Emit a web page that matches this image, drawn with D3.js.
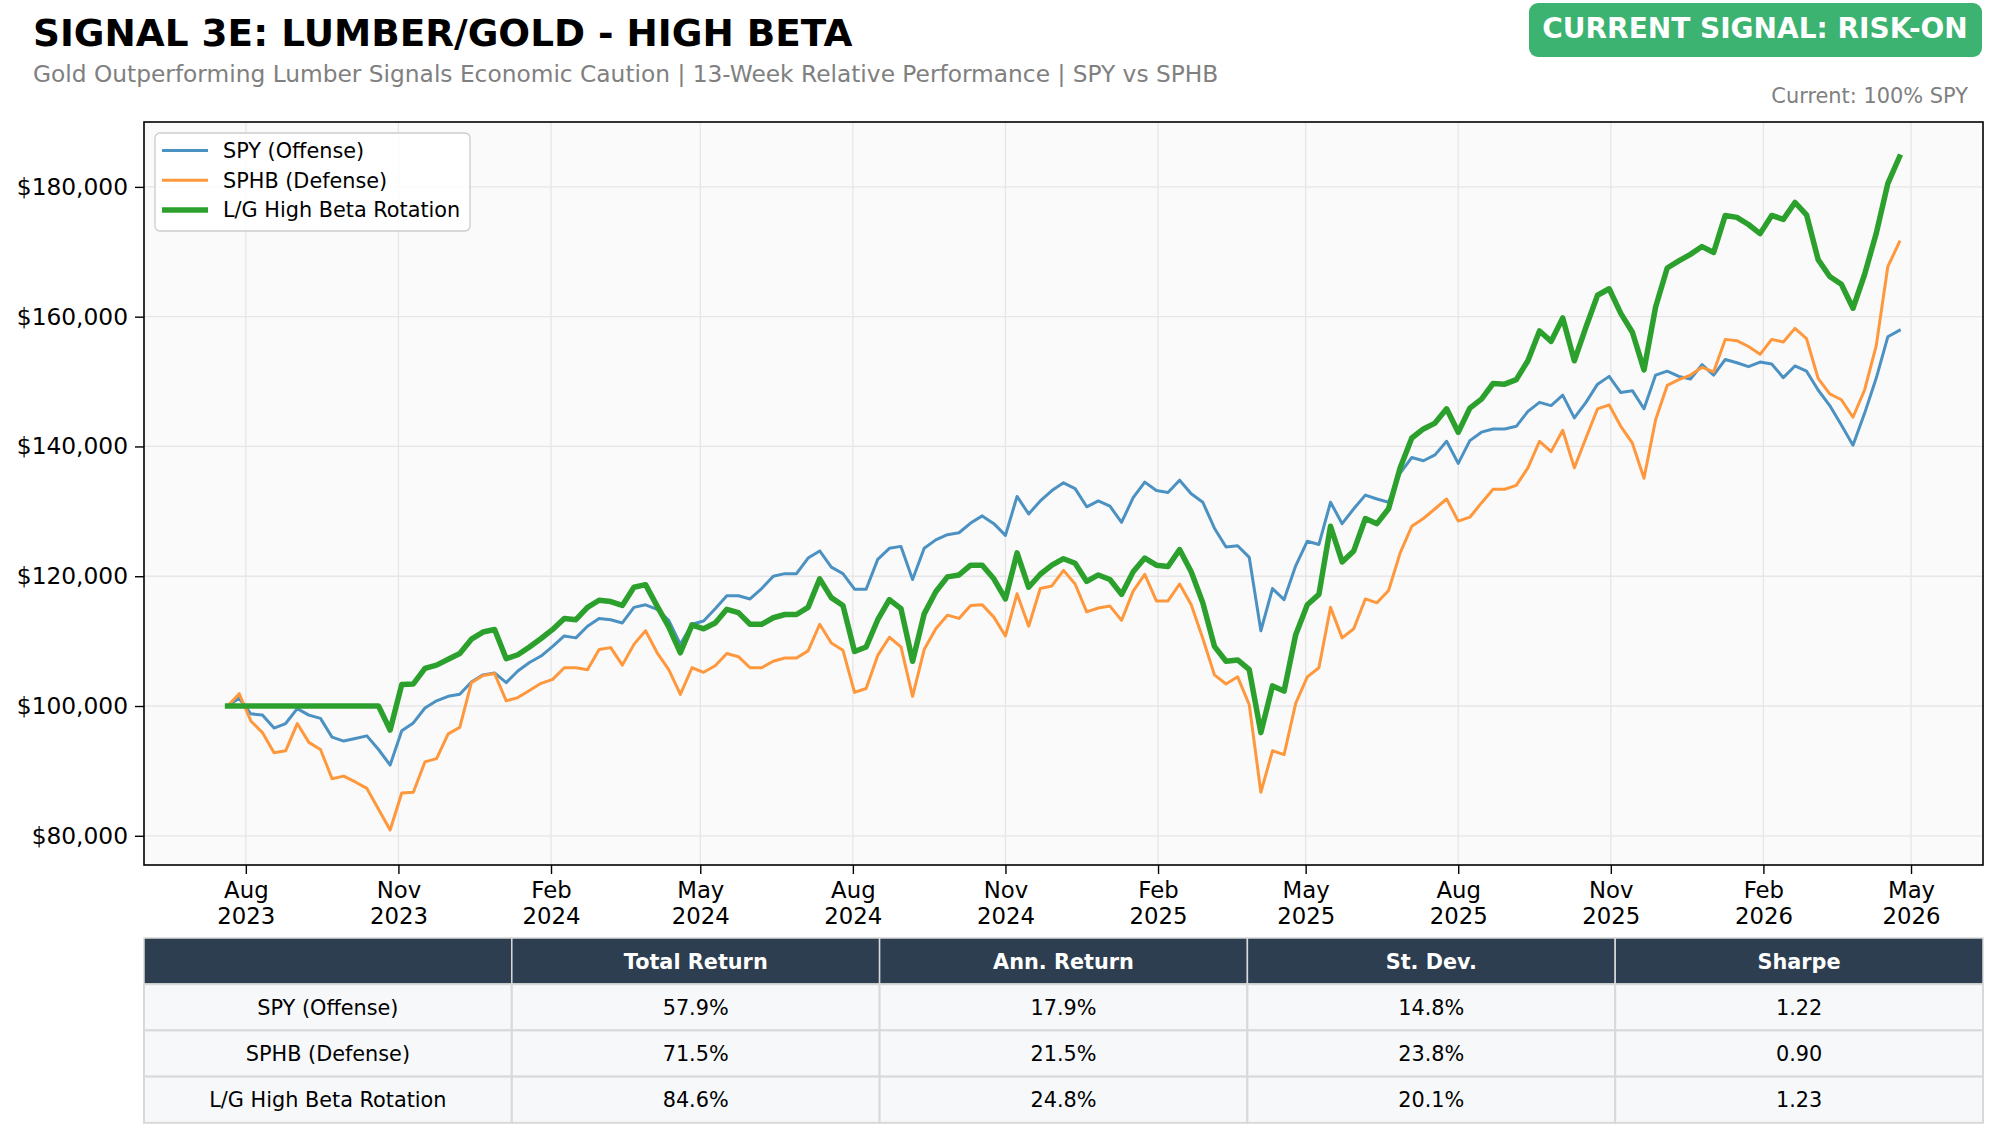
<!DOCTYPE html>
<html>
<head>
<meta charset="utf-8">
<script src="https://cdn.jsdelivr.net/npm/d3@7"></script>
<style>
  body { margin: 0; background: #ffffff; }
  svg { display: block; font-family: "DejaVu Sans", sans-serif; }
</style>
</head>
<body>
<svg id="chart" width="2000" height="1140"></svg>
<script>
// weekly closes, first week ends 2023-07-21, values in $ thousands
var startDate = new Date(2023, 6, 21);

var spyK = [100.0,101.2,98.8,98.6,96.6,97.3,99.6,98.6,98.1,95.2,94.6,95.0,95.4,93.3,90.9,96.2,97.4,99.7,100.8,101.5,
  101.8,103.7,104.8,105.1,103.6,105.4,106.7,107.7,109.2,110.8,110.5,112.3,113.5,113.3,112.8,115.2,115.6,114.9,113.2,109.5,
  112.6,113.1,115.0,117.0,117.0,116.5,118.1,120.0,120.4,120.4,122.8,123.9,121.4,120.4,118.0,118.0,122.6,124.3,124.6,119.5,
  124.3,125.6,126.4,126.7,128.2,129.3,128.1,126.3,132.3,129.6,131.6,133.2,134.4,133.5,130.7,131.6,130.8,128.3,132.1,134.5,
  133.2,132.9,134.8,132.7,131.4,127.4,124.5,124.7,122.9,111.6,118.1,116.4,121.6,125.4,124.9,131.4,128.1,130.4,132.5,131.9,
  131.4,135.9,138.3,137.8,138.7,140.8,137.4,140.9,142.2,142.7,142.7,143.1,145.4,146.8,146.3,147.9,144.4,146.8,149.6,150.8,
  148.3,148.6,145.8,151.0,151.6,150.8,150.4,152.6,151.0,153.4,152.9,152.3,153.0,152.7,150.6,152.4,151.6,148.7,146.3,143.3,
  140.2,145.1,150.5,156.9,157.9];

var sphbK = [100.0,101.9,97.7,95.9,92.8,93.1,97.3,94.4,93.3,88.8,89.2,88.3,87.3,84.1,80.9,86.6,86.7,91.4,91.9,95.7,
  96.7,103.6,104.7,105.0,100.8,101.3,102.4,103.5,104.1,105.9,105.9,105.6,108.7,109.0,106.3,109.5,111.6,108.2,105.6,101.8,
  105.9,105.2,106.2,108.1,107.6,105.9,105.9,106.9,107.4,107.4,108.5,112.6,109.7,108.6,102.1,102.7,107.8,110.6,109.1,101.5,
  108.7,111.9,114.0,113.5,115.5,115.6,113.7,110.8,117.3,112.3,118.1,118.5,120.9,118.8,114.5,115.1,115.4,113.2,117.7,120.3,
  116.2,116.2,118.8,115.6,110.4,104.8,103.4,104.5,100.2,86.7,93.1,92.5,100.4,104.5,105.9,115.2,110.5,111.9,116.5,115.9,
  117.8,123.6,127.7,128.9,130.4,131.9,128.5,129.1,131.3,133.4,133.4,134.0,136.7,140.8,139.2,142.5,136.7,141.3,145.8,146.4,
  143.1,140.5,135.1,144.1,149.4,150.3,151.0,152.2,151.5,156.5,156.3,155.4,154.2,156.5,156.1,158.2,156.6,150.5,148.1,147.2,
  144.5,148.7,155.5,167.7,171.5];

var rotationK = [100.0,100.0,100.0,100.0,100.0,100.0,100.0,100.0,100.0,100.0,100.0,100.0,100.0,100.0,96.3,103.3,103.4,105.8,106.3,107.2,
  108.1,110.3,111.4,111.8,107.3,107.9,109.1,110.4,111.8,113.5,113.3,115.2,116.3,116.1,115.5,118.3,118.7,115.4,112.2,108.2,
  112.5,111.9,112.8,114.9,114.4,112.6,112.6,113.6,114.1,114.1,115.2,119.6,116.7,115.5,108.4,109.1,113.3,116.4,115.0,106.9,
  114.2,117.6,119.9,120.2,121.7,121.7,119.6,116.5,123.6,118.3,120.3,121.7,122.7,122.0,119.2,120.2,119.5,117.2,120.7,122.8,
  121.7,121.5,124.1,120.7,115.9,109.2,106.9,107.1,105.6,95.9,103.1,102.3,111.0,115.6,117.2,127.7,122.2,123.9,128.9,128.1,
  130.4,136.7,141.3,142.7,143.6,145.8,142.2,145.9,147.3,149.7,149.6,150.3,153.2,157.8,156.2,159.8,153.2,158.4,163.3,164.3,
  160.5,157.6,151.8,161.5,167.5,168.6,169.6,170.8,169.9,175.6,175.3,174.2,172.8,175.6,175.0,177.6,175.7,168.8,166.2,165.0,
  161.3,166.5,172.8,180.5,184.6];

var seriesNames = ["SPY (Offense)", "SPHB (Defense)", "L/G High Beta Rotation"];
var yTicks = [80000, 100000, 120000, 140000, 160000, 180000];
var xTickDates = ["2023-08-01","2023-11-01","2024-02-01","2024-05-01","2024-08-01","2024-11-01",
  "2025-02-01","2025-05-01","2025-08-01","2025-11-01","2026-02-01","2026-05-01"];

var tableCols = ["", "Total Return", "Ann. Return", "St. Dev.", "Sharpe"];
var tableRows = [
  ["SPY (Offense)", "57.9%", "17.9%", "14.8%", "1.22"],
  ["SPHB (Defense)", "71.5%", "21.5%", "23.8%", "0.90"],
  ["L/G High Beta Rotation", "84.6%", "24.8%", "20.1%", "1.23"]
];

var svg = d3.select("#chart");
var box = { left: 144, right: 1983, top: 122, bottom: 865 };

var dates = spyK.map(function (d, i) { return d3.timeDay.offset(startDate, 7 * i); });
var series = [spyK, sphbK, rotationK].map(function (arr) {
  return arr.map(function (v, i) { return { date: dates[i], value: v * 1000 }; });
});
var colors = ["#4b91c2", "#ff983d", "#2ca02c"];
var widths = [3, 3, 5.5];

// header
svg.append("text").attr("x", 33).attr("y", 46)
  .attr("font-size", 37.4).attr("font-weight", "bold").attr("fill", "#000")
  .text("SIGNAL 3E: LUMBER/GOLD - HIGH BETA");
svg.append("text").attr("x", 33).attr("y", 82)
  .attr("font-size", 23.3).attr("fill", "#808080")
  .text("Gold Outperforming Lumber Signals Economic Caution | 13-Week Relative Performance | SPY vs SPHB");

svg.append("rect").attr("x", 1529).attr("y", 3).attr("width", 453).attr("height", 54)
  .attr("rx", 9).attr("fill", "#3cb371");
svg.append("text").attr("x", 1755).attr("y", 38).attr("text-anchor", "middle")
  .attr("font-size", 28).attr("font-weight", "bold").attr("fill", "#fff")
  .text("CURRENT SIGNAL: RISK-ON");
svg.append("text").attr("x", 1968).attr("y", 103).attr("text-anchor", "end")
  .attr("font-size", 20.9).attr("fill", "#808080")
  .text("Current: 100% SPY");

// scales
var t0 = dates[0].getTime(), t1 = dates[dates.length - 1].getTime(), span = t1 - t0;
var x = d3.scaleTime()
  .domain([new Date(t0 - 0.05 * span), new Date(t1 + 0.05 * span)])
  .range([box.left, box.right]);
var y = d3.scaleLinear().domain([75500, 190000]).range([box.bottom, box.top]);

var parse = d3.timeParse("%Y-%m-%d");
var tickDates = xTickDates.map(parse);

svg.append("rect").attr("x", box.left).attr("y", box.top)
  .attr("width", box.right - box.left).attr("height", box.bottom - box.top)
  .attr("fill", "#fafafa");

// grid
var grid = svg.append("g").attr("stroke", "#e6e6e6").attr("stroke-width", 1.3);
grid.selectAll("line.h").data(yTicks).enter().append("line")
  .attr("x1", box.left).attr("x2", box.right)
  .attr("y1", function (d) { return y(d); }).attr("y2", function (d) { return y(d); });
grid.selectAll("line.v").data(tickDates).enter().append("line")
  .attr("y1", box.top).attr("y2", box.bottom)
  .attr("x1", function (d) { return x(d); }).attr("x2", function (d) { return x(d); });

// lines
var line = d3.line()
  .x(function (d) { return x(d.date); })
  .y(function (d) { return y(d.value); });

svg.append("g").selectAll("path").data(series).enter().append("path")
  .attr("d", line)
  .attr("fill", "none")
  .attr("stroke", function (d, i) { return colors[i]; })
  .attr("stroke-width", function (d, i) { return widths[i]; })
  .attr("stroke-linejoin", "round")
  .attr("stroke-linecap", "square");

// frame
svg.append("rect").attr("x", box.left).attr("y", box.top)
  .attr("width", box.right - box.left).attr("height", box.bottom - box.top)
  .attr("fill", "none").attr("stroke", "#000").attr("stroke-width", 1.6);

// axes
var fmt = d3.format(",");
var yAxis = svg.append("g").attr("transform", "translate(" + box.left + ",0)")
  .call(d3.axisLeft(y).tickValues(yTicks).tickSize(9).tickPadding(7)
    .tickFormat(function (d) { return "$" + fmt(d); }));
yAxis.select(".domain").remove();
yAxis.selectAll("text").attr("font-size", 23.3).attr("fill", "#000").attr("font-family", "DejaVu Sans");
yAxis.selectAll("line").attr("stroke", "#000").attr("stroke-width", 1.4);

var monthFmt = d3.timeFormat("%b"), yearFmt = d3.timeFormat("%Y");
var xAxis = svg.append("g").attr("transform", "translate(0," + box.bottom + ")")
  .call(d3.axisBottom(x).tickValues(tickDates).tickSize(9).tickPadding(6).tickFormat(""));
xAxis.select(".domain").remove();
xAxis.selectAll("line").attr("stroke", "#000").attr("stroke-width", 1.4);
xAxis.selectAll(".tick").append("text")
  .attr("fill", "#000").attr("font-size", 22.8).attr("font-family", "DejaVu Sans")
  .attr("text-anchor", "middle")
  .each(function (d) {
    var t = d3.select(this);
    t.append("tspan").attr("x", 0).attr("y", 33).text(monthFmt(d));
    t.append("tspan").attr("x", 0).attr("y", 59).text(yearFmt(d));
  });

// legend
var lg = svg.append("g");
lg.append("rect").attr("x", 155).attr("y", 133).attr("width", 315).attr("height", 98)
  .attr("rx", 5).attr("fill", "#fff").attr("fill-opacity", 0.85)
  .attr("stroke", "#cccccc").attr("stroke-width", 1.3);
var item = lg.selectAll("g.item").data(seriesNames).enter().append("g")
  .attr("transform", function (d, i) { return "translate(0," + (150.5 + i * 29.7) + ")"; });
item.append("line").attr("x1", 162).attr("x2", 208)
  .attr("stroke", function (d, i) { return colors[i]; })
  .attr("stroke-width", function (d, i) { return widths[i]; });
item.append("text").attr("x", 223).attr("y", 7.5)
  .attr("font-size", 20.8).attr("fill", "#000")
  .text(function (d) { return d; });

// table
var tTop = 938, rowH = 46.2, colW = (box.right - box.left) / tableCols.length;
var tg = svg.append("g");
tg.selectAll("rect.hd").data(tableCols).enter().append("rect")
  .attr("x", function (d, i) { return box.left + i * colW; })
  .attr("y", tTop).attr("width", colW).attr("height", rowH)
  .attr("fill", "#2c3e50").attr("stroke", "#d9d9d9").attr("stroke-width", 1.5);
tg.selectAll("text.hd").data(tableCols).enter().append("text")
  .attr("x", function (d, i) { return box.left + (i + 0.5) * colW; })
  .attr("y", tTop + rowH / 2 + 7.5)
  .attr("text-anchor", "middle").attr("font-size", 20.8).attr("font-weight", "bold")
  .attr("fill", "#fff").text(function (d) { return d; });

var rows = tg.selectAll("g.row").data(tableRows).enter().append("g")
  .attr("transform", function (d, r) { return "translate(0," + (tTop + (r + 1) * rowH) + ")"; });
rows.selectAll("rect").data(function (d) { return d; }).enter().append("rect")
  .attr("x", function (d, i) { return box.left + i * colW; })
  .attr("width", colW).attr("height", rowH)
  .attr("fill", "#f7f8fa").attr("stroke", "#d9d9d9").attr("stroke-width", 2);
rows.selectAll("text").data(function (d) { return d; }).enter().append("text")
  .attr("x", function (d, i) { return box.left + (i + 0.5) * colW; })
  .attr("y", rowH / 2 + 7.5)
  .attr("text-anchor", "middle").attr("font-size", 20.8).attr("fill", "#000")
  .text(function (d) { return d; });
</script>
</body>
</html>
